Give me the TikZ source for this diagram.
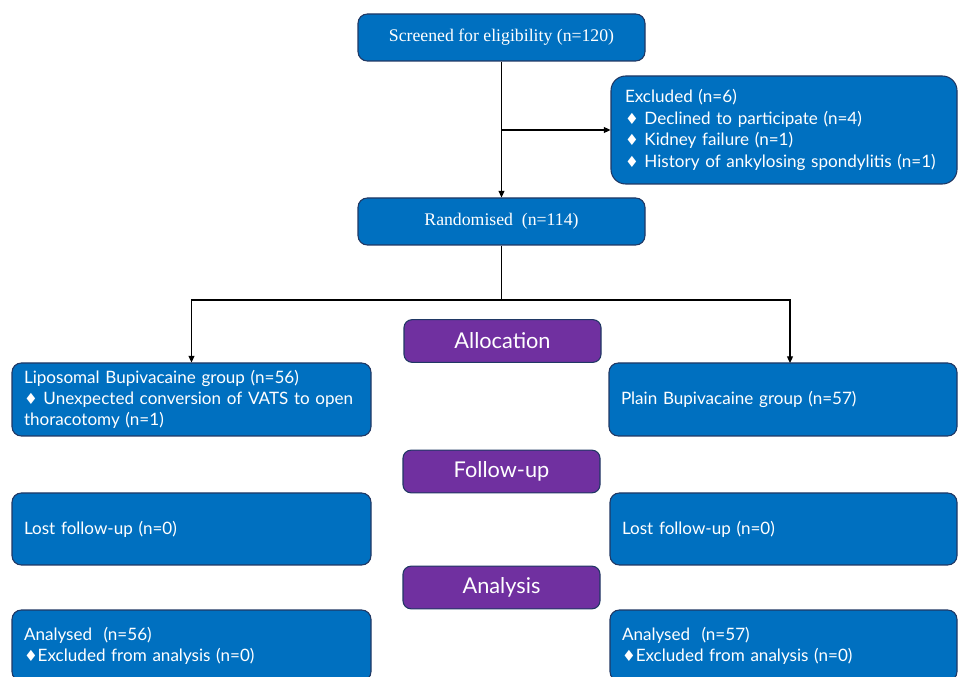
\documentclass[tikz,border=0pt]{standalone}
\usepackage{fontspec}
\setmainfont{Liberation Serif}
\setsansfont{Lato}
\newfontfamily\symfont{DejaVu Sans}
\usetikzlibrary{positioning,arrows.meta}
\definecolor{boxBlue}{HTML}{0070C0}
\definecolor{boxPurple}{HTML}{7030A0}
\definecolor{boxEdge}{HTML}{203864}
\newcommand{\dia}{{\symfont\fontsize{11.5}{12}\selectfont ♦}}

\begin{document}
\begin{tikzpicture}[x=0.75pt, y=-0.75pt,
  arr/.style={-{Triangle[length=5pt,width=4.5pt]}, line width=0.9pt},
  bluebox/.style={draw=boxEdge, fill=boxBlue, text=white, rounded corners=7pt, line width=0.8pt},
  titlebox/.style={bluebox, font=\rmfamily\fontsize{13.3}{16}\selectfont,
    minimum width=215.25pt, minimum height=35.25pt},
  listbox/.style={bluebox, font=\sffamily\fontsize{12.8}{15.8}\selectfont, align=left,
    inner xsep=9pt, inner ysep=0pt},
  stagebox/.style={draw=boxEdge, fill=boxPurple, text=white, rounded corners=6pt, line width=0.8pt,
    font=\sffamily\fontsize{16.3}{19}\selectfont, minimum width=147.75pt, minimum height=32pt}]
\path[use as bounding box, clip] (0,0) rectangle (958,677);

% screening
\node[titlebox] (scr) at (501.5,37.5) {Screened for eligibility (n=120)};
\node[listbox, rounded corners=11pt, inner xsep=10.5pt, text width=238.5pt, minimum height=81pt,
  font=\sffamily\fontsize{12.8}{16.3}\selectfont]
  (excl) at (784,130) {Excluded (n=6)\\
  \dia\ Declined to participate (n=4)\\
  \dia\ Kidney failure (n=1)\\
  \dia\ History of ankylosing spondylitis (n=1)};
\node[titlebox] (rand) at (501.5,221.5) {Randomised\ \ (n=114)};

% allocation
\node[stagebox] (alloc) at (502.5,341) {Allocation};
\node[listbox, text width=251.25pt, minimum height=54.75pt] (lipo) at (191.5,399.5)
  {Liposomal Bupivacaine group (n=56)\\
  \dia\ Unexpected conversion of VATS to open\\
  thoracotomy (n=1)};
\node[listbox, text width=243pt, minimum height=54.75pt] (plain) at (783,399.5)
  {Plain Bupivacaine group (n=57)};

% follow-up
\node[stagebox] (follow) at (501.5,471.5) {Follow-up};
\node[listbox, text width=251.25pt, minimum height=54pt] (lostA) at (191.5,529)
  {Lost follow-up (n=0)};
\node[listbox, text width=242.25pt, minimum height=54pt] (lostB) at (783.5,529)
  {Lost follow-up (n=0)};

% analysis
\node[stagebox] (anal) at (501.5,587.5) {Analysis};
\node[listbox, text width=251.25pt, minimum height=53.25pt] (anaA) at (191.5,645.5)
  {Analysed\ \ (n=56)\\
  \dia Excluded from analysis (n=0)};
\node[listbox, text width=242.25pt, minimum height=53.25pt] (anaB) at (783.5,645.5)
  {Analysed\ \ (n=57)\\
  \dia Excluded from analysis (n=0)};

% connectors
\coordinate (split) at (501.5,300);
\coordinate (plainIn) at (790,363);
\draw[arr] (scr) -- (rand);
\draw[arr] (scr.south |- excl.west) -- (excl.west);
\draw[line width=0.9pt] (rand) -- (split);
\draw[arr] (split) -| (lipo);
\draw[arr] (split) -| (plainIn);
\end{tikzpicture}
\end{document}
